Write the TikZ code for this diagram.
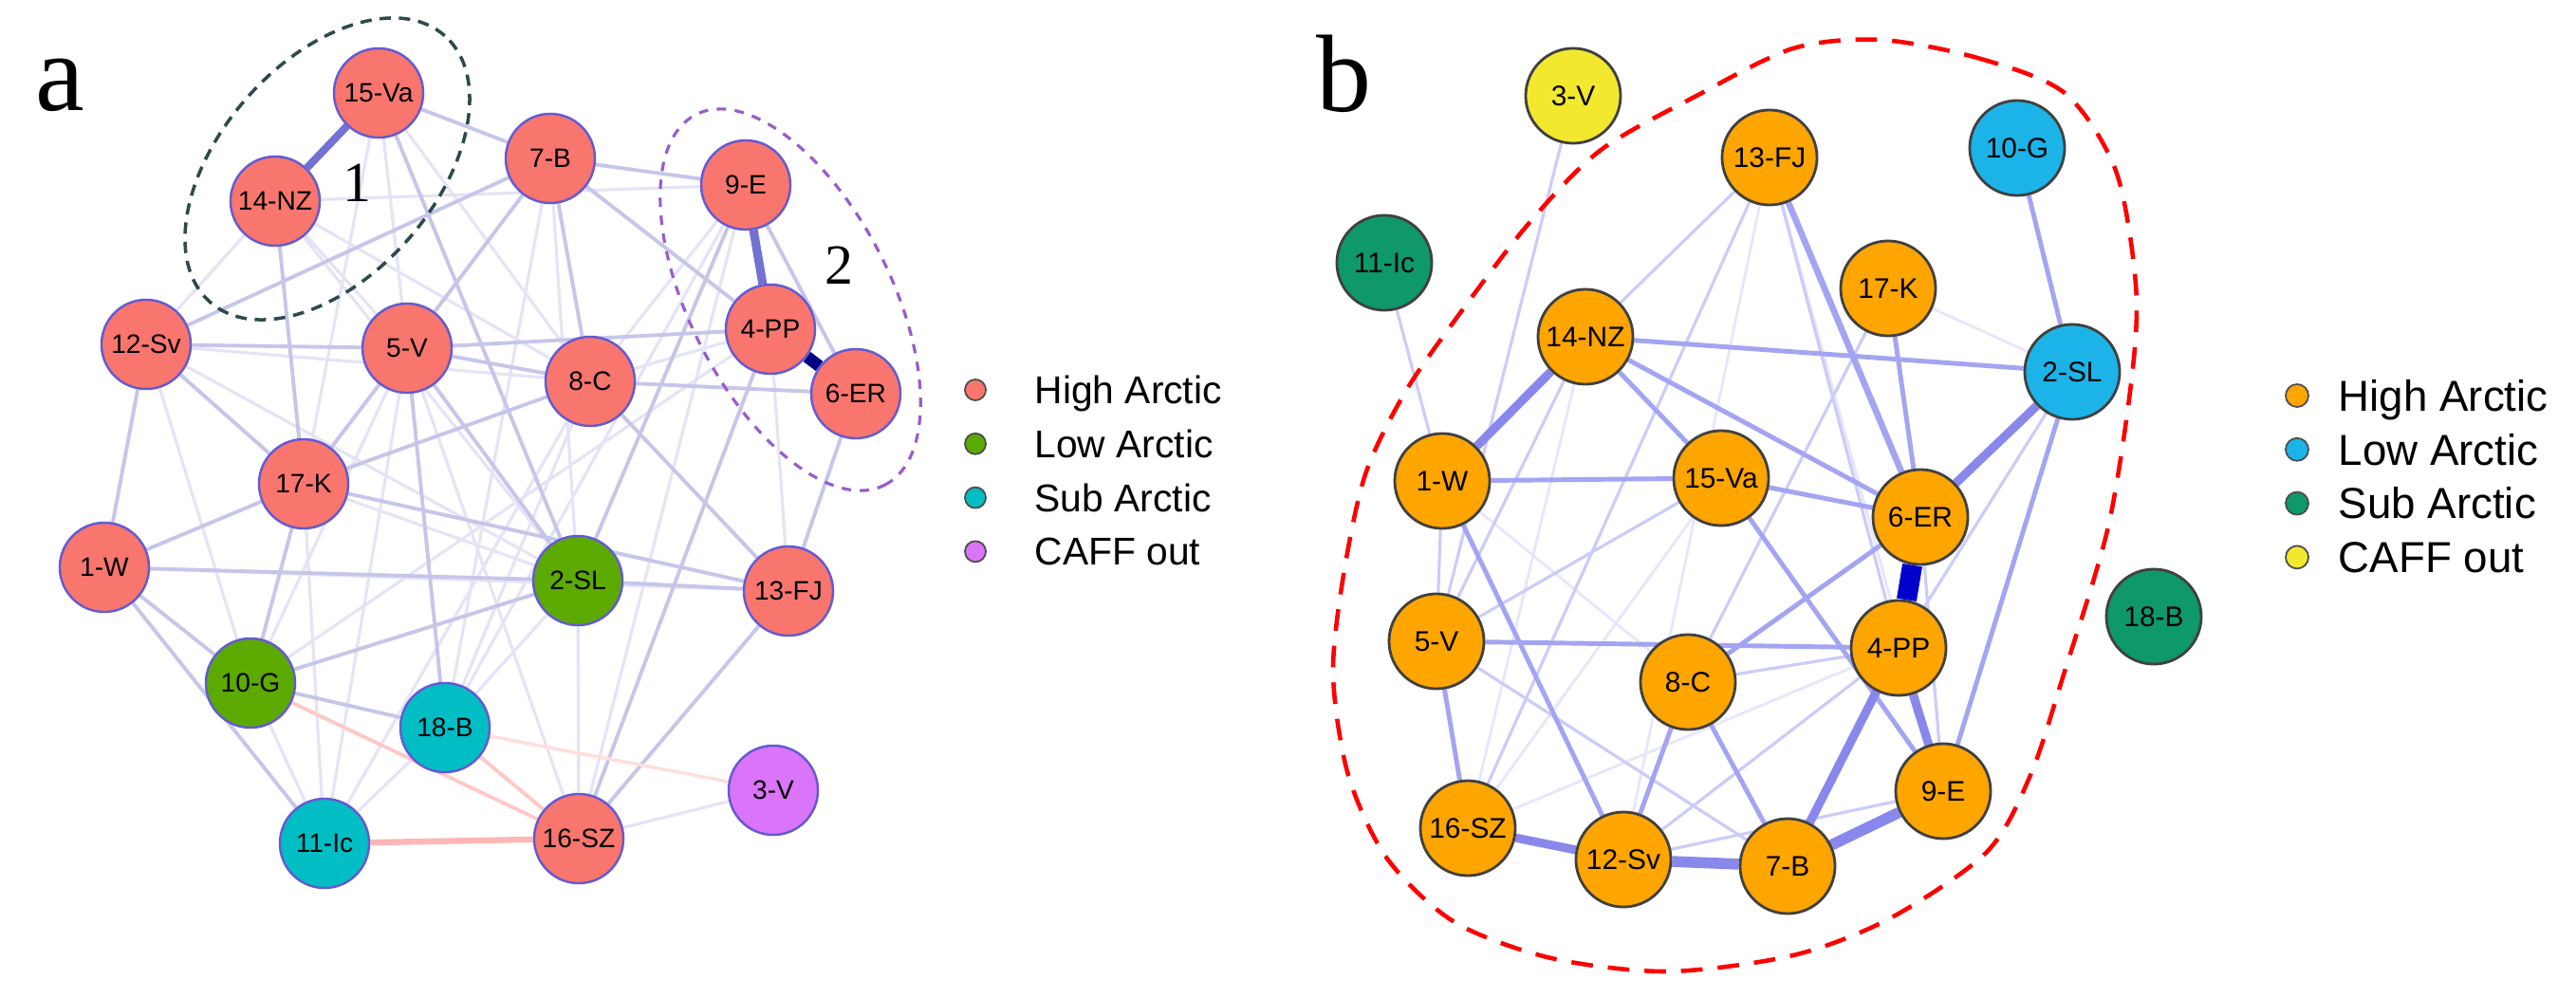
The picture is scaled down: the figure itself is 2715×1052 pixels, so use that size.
\documentclass[tikz,border=0pt]{standalone}
\usepackage{fontspec}
\setmainfont{Liberation Sans}
\newfontfamily\serifface{Liberation Serif}
\usepackage{tikz}
\usetikzlibrary{positioning,backgrounds}
\definecolor{hiarc}{RGB}{248,118,109}
\definecolor{loarc}{RGB}{92,170,0}
\definecolor{subarc}{RGB}{0,190,196}
\definecolor{cafout}{RGB}{218,116,248}
\definecolor{nodeline}{RGB}{100,90,210}
\definecolor{hiarcb}{RGB}{255,165,0}
\definecolor{loarcb}{RGB}{28,180,232}
\definecolor{subarcb}{RGB}{14,152,108}
\definecolor{cafoutb}{RGB}{242,232,46}
\definecolor{linka}{RGB}{198,198,234}
\definecolor{linkafaint}{RGB}{228,228,246}
\definecolor{linkastrong}{RGB}{114,114,210}
\definecolor{linkadark}{RGB}{0,0,130}
\definecolor{linkpink}{RGB}{255,200,200}
\definecolor{linkpinkdeep}{RGB}{255,182,182}
\definecolor{linkb}{RGB}{164,164,242}
\definecolor{linkblight}{RGB}{204,204,249}
\definecolor{linkbfaint}{RGB}{230,230,252}
\definecolor{linkbstrong}{RGB}{136,136,236}
\definecolor{linkbdark}{RGB}{0,0,205}
\definecolor{clusterone}{RGB}{47,74,74}
\definecolor{clustertwo}{RGB}{153,92,204}

\begin{document}
\begin{tikzpicture}[x=0.01cm,y=-0.01cm,
  anode/.style={circle,draw=nodeline,line width=0.7pt,minimum size=0.94cm,inner sep=0pt,font=\fontsize{8}{9}\selectfont},
  bnode/.style={circle,draw=black!75,line width=0.8pt,minimum size=1cm,inner sep=0pt,font=\fontsize{8.5}{10}\selectfont},
  alink/.style={linka,line width=1.1pt},
  alinkfaint/.style={linkafaint,line width=0.9pt},
  blink/.style={linkb,line width=1.4pt},
  blinklight/.style={linkblight,line width=0.9pt},
  blinkfaint/.style={linkbfaint,line width=0.8pt},
  blinkstrong/.style={linkbstrong,line width=2.6pt},
  legdot/.style={circle,draw=black!70,line width=0.5pt,inner sep=0pt},
  legtexta/.style={inner sep=0pt,font=\fontsize{11.6}{13}\selectfont,text height=8.3pt,text depth=0pt},
  legtextb/.style={inner sep=0pt,font=\fontsize{13}{15}\selectfont,text height=9.3pt,text depth=0pt},
  panel/.style={font=\serifface\fontsize{33}{36}\selectfont,inner sep=0pt},
  clusterlabel/.style={font=\serifface\fontsize{17}{20}\selectfont,inner sep=0pt}]
\useasboundingbox (0,0) rectangle (2715,1052);

\node[panel] (pa) at (63,90) {a};
\node[panel] (pb) at (1416,78) {b};

\node[anode,fill=hiarc] (a15) at (399,98) {15-Va};
\node[anode,fill=hiarc] (a14) at (290,212) {14-NZ};
\node[anode,fill=hiarc] (a7) at (580,167) {7-B};
\node[anode,fill=hiarc] (a9) at (786,195) {9-E};
\node[anode,fill=hiarc] (a4) at (812,347) {4-PP};
\node[anode,fill=hiarc] (a6) at (902,415) {6-ER};
\node[anode,fill=hiarc] (a12) at (154,363) {12-Sv};
\node[anode,fill=hiarc] (a5) at (429,367) {5-V};
\node[anode,fill=hiarc] (a8) at (622,402) {8-C};
\node[anode,fill=hiarc] (a17) at (320,510) {17-K};
\node[anode,fill=hiarc] (a1) at (110,598) {1-W};
\node[anode,fill=loarc] (a2) at (609,612) {2-SL};
\node[anode,fill=hiarc] (a13) at (831,623) {13-FJ};
\node[anode,fill=loarc] (a10) at (264,720) {10-G};
\node[anode,fill=subarc] (a18) at (469,767) {18-B};
\node[anode,fill=cafout] (a3) at (815,833) {3-V};
\node[anode,fill=subarc] (a11) at (342,889) {11-Ic};
\node[anode,fill=hiarc] (a16) at (610,884) {16-SZ};

\node[clusterlabel] (c1) at (376,193) {1};
\node[clusterlabel] (c2) at (884,280) {2};
\draw[clusterone,line width=1pt,dash pattern=on 3.4pt off 2.4pt,rotate around={48.6:(345,178)}] (345,178) ellipse [x radius=1.87cm,y radius=1.13cm];
\draw[clustertwo,line width=0.9pt,dash pattern=on 2.8pt off 2.6pt,rotate around={-63:(833,316)}] (833,316) ellipse [x radius=2.19cm,y radius=1.06cm];

\node[legdot,minimum size=0.22cm,fill=hiarc] (la1) at (1028,411) {};
\node[legdot,minimum size=0.22cm,fill=loarc,below=0.33cm of la1] (la2) {};
\node[legdot,minimum size=0.22cm,fill=subarc,below=0.33cm of la2] (la3) {};
\node[legdot,minimum size=0.22cm,fill=cafout,below=0.33cm of la3] (la4) {};
\node[legtexta,right=0.5cm of la1] (ta1) {High Arctic};
\node[legtexta,right=0.5cm of la2] (ta2) {Low Arctic};
\node[legtexta,right=0.5cm of la3] (ta3) {Sub Arctic};
\node[legtexta,right=0.5cm of la4] (ta4) {CAFF out};

\node[bnode,fill=cafoutb] (b3) at (1658,101) {3-V};
\node[bnode,fill=hiarcb] (b13) at (1865,166) {13-FJ};
\node[bnode,fill=loarcb] (b10) at (2126,156) {10-G};
\node[bnode,fill=subarcb] (b11) at (1459,277) {11-Ic};
\node[bnode,fill=hiarcb] (b17) at (1990,304) {17-K};
\node[bnode,fill=hiarcb] (b14) at (1671,355) {14-NZ};
\node[bnode,fill=loarcb] (b2) at (2184,392) {2-SL};
\node[bnode,fill=hiarcb] (b1) at (1520,507) {1-W};
\node[bnode,fill=hiarcb] (b15) at (1814,504) {15-Va};
\node[bnode,fill=hiarcb] (b6) at (2024,545) {6-ER};
\node[bnode,fill=hiarcb] (b5) at (1514,676) {5-V};
\node[bnode,fill=hiarcb] (b4) at (2001,683) {4-PP};
\node[bnode,fill=hiarcb] (b8) at (1779,719) {8-C};
\node[bnode,fill=subarcb] (b18) at (2270,650) {18-B};
\node[bnode,fill=hiarcb] (b9) at (2048,834) {9-E};
\node[bnode,fill=hiarcb] (b16) at (1547,873) {16-SZ};
\node[bnode,fill=hiarcb] (b12) at (1711,906) {12-Sv};
\node[bnode,fill=hiarcb] (b7) at (1884,913) {7-B};

\draw[red,line width=1.3pt,dash pattern=on 6.5pt off 4.5pt] plot[smooth cycle] coordinates {(1982,42) (2084,61) (2176,98) (2230,180) (2251,300) (2247,396) (2222,555) (2175,711) (2140,817) (2094,898) (1992,968) (1890,1007) (1758,1024) (1635,1010) (1533,972) (1462,905) (1421,817) (1405,711) (1416,606) (1439,500) (1480,415) (1533,338) (1610,237) (1686,159) (1788,101) (1890,51)};

\node[legdot,minimum size=0.24cm,fill=hiarcb] (lb1) at (2421,417) {};
\node[legdot,minimum size=0.24cm,fill=loarcb,below=0.31cm of lb1] (lb2) {};
\node[legdot,minimum size=0.24cm,fill=subarcb,below=0.31cm of lb2] (lb3) {};
\node[legdot,minimum size=0.24cm,fill=cafoutb,below=0.31cm of lb3] (lb4) {};
\node[legtextb,right=0.3cm of lb1] (tb1) {High Arctic};
\node[legtextb,right=0.3cm of lb2] (tb2) {Low Arctic};
\node[legtextb,right=0.3cm of lb3] (tb3) {Sub Arctic};
\node[legtextb,right=0.3cm of lb4] (tb4) {CAFF out};

\begin{scope}[on background layer]
\fill[white] (0,0) rectangle (2715,1052);
\draw[alinkfaint] (a14) -- (a5) (a14) -- (a2) (a15) -- (a8) (a12) -- (a10) (a12) -- (a14) (a5) -- (a16) (a18) -- (a8) (a18) -- (a7) (a13) -- (a4) (a11) -- (a18) (a11) -- (a10) (a11) -- (a17) (a16) -- (a3) (a8) -- (a4) (a8) -- (a9) (a9) -- (a18) (a17) -- (a2) (a12) -- (a8) (a2) -- (a16) (a11) -- (a5) (a14) -- (a8) (a1) -- (a13) (a15) -- (a5) (a12) -- (a2) (a10) -- (a5) (a10) -- (a4) (a7) -- (a2) (a14) -- (a9) (a15) -- (a17) (a11) -- (a8) (a16) -- (a9) (a18) -- (a2);
\draw[alink] (a15) -- (a7) (a7) -- (a9) (a7) -- (a5) (a7) -- (a8) (a7) -- (a12) (a7) -- (a4) (a12) -- (a5) (a5) -- (a8) (a8) -- (a6) (a12) -- (a1) (a12) -- (a17) (a14) -- (a17) (a17) -- (a1) (a17) -- (a8) (a17) -- (a5) (a17) -- (a10) (a17) -- (a13) (a1) -- (a2) (a1) -- (a10) (a1) -- (a11) (a10) -- (a2) (a10) -- (a18) (a2) -- (a13) (a8) -- (a13) (a16) -- (a13) (a16) -- (a4) (a5) -- (a4) (a9) -- (a6) (a15) -- (a2) (a5) -- (a18) (a2) -- (a9) (a13) -- (a6) (a5) -- (a2);
\draw[linkpink,line width=1.1pt] (a10) -- (a16) (a18) -- (a16);
\draw[linkpink!60,line width=1pt] (a18) -- (a3);
\draw[linkpinkdeep,line width=1.8pt] (a11) -- (a16);
\draw[linkastrong,line width=2.3pt] (a14) -- (a15);
\draw[linkastrong,line width=2.6pt] (a9) -- (a4);
\draw[linkadark,line width=3.6pt] (a4) -- (a6);

\draw[blinkfaint] (b17) -- (b2) (b16) -- (b15) (b16) -- (b4) (b14) -- (b16) (b1) -- (b8) (b13) -- (b9) (b13) -- (b12);
\draw[blinklight] (b3) -- (b5) (b11) -- (b1) (b13) -- (b14) (b13) -- (b4) (b13) -- (b16) (b17) -- (b8) (b14) -- (b5) (b1) -- (b5) (b15) -- (b5) (b6) -- (b9) (b4) -- (b12) (b5) -- (b7) (b12) -- (b9) (b2) -- (b4) (b8) -- (b4);
\draw[blink] (b10) -- (b2) (b17) -- (b6) (b14) -- (b2) (b14) -- (b15) (b14) -- (b6) (b1) -- (b15) (b1) -- (b12) (b15) -- (b6) (b15) -- (b9) (b6) -- (b8) (b4) -- (b5) (b8) -- (b12) (b8) -- (b7) (b5) -- (b16) (b2) -- (b9);
\draw[blink,line width=1.9pt] (b13) -- (b6);
\draw[blinkstrong] (b4) -- (b7) (b4) -- (b9) (b14) -- (b1) (b6) -- (b2) (b16) -- (b12);
\draw[blinkstrong,line width=3.3pt] (b12) -- (b7) (b7) -- (b9);
\draw[linkbdark,line width=6pt] (b6) -- (b4);
\end{scope}
\end{tikzpicture}
\end{document}
